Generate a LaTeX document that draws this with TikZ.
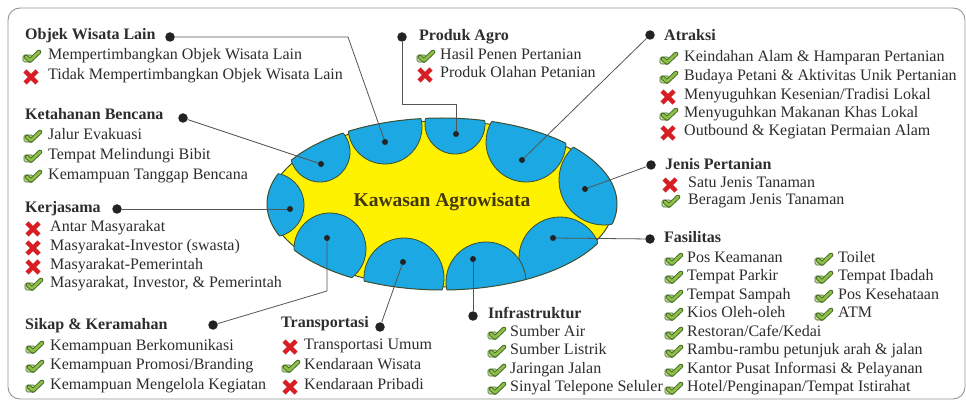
\documentclass[tikz,border=0pt]{standalone}
\usepackage{fontspec}
\setmainfont{Liberation Serif}

\definecolor{agblue}{RGB}{28,168,226}
\definecolor{agyellow}{RGB}{255,242,0}
\definecolor{rimc}{RGB}{60,78,48}
\definecolor{linec}{RGB}{85,85,85}
\definecolor{dotc}{RGB}{35,35,35}
\definecolor{txtc}{RGB}{45,45,45}
\definecolor{ckgreen}{RGB}{142,192,72}
\definecolor{ckdark}{RGB}{72,110,42}
\definecolor{xred}{RGB}{214,30,36}
\definecolor{framec}{RGB}{150,150,150}
\definecolor{corec}{RGB}{66,56,16}

% icon helpers: green tick and red cross
\newcommand\mkok[1]{\pic at (#1) {okmark};}
\newcommand\mkno[1]{\pic at (#1) {nomark};}
% lobe circles (centre x / centre y / radius)
\newcommand\lobelist{272/205/32, 320/152/30, 385/127/37, 455/124/30, 526/142/40,
                     604/180/45, 560/258/41, 486/282/40, 404/278/40, 330/249/36}

\begin{document}
\begin{tikzpicture}[x=1pt,y=-1pt,
  ttl/.style={font=\bfseries\fontsize{16}{19}\selectfont, text=txtc, anchor=mid west, inner sep=0pt},
  itm/.style={font=\fontsize{16}{19}\selectfont, text=txtc, anchor=mid west, inner sep=0pt},
  bdot/.style={circle, fill=dotc, inner sep=0pt, minimum size=9.5pt},
  ldot/.style={circle, fill=dotc, inner sep=0pt, minimum size=6pt},
  link/.style={draw=linec, line width=0.8pt},
  lobe/.style={fill=agblue, draw=rimc, line width=0.8pt},
  okmark/.pic={
    \draw[fill=ckgreen!55!white, draw=ckdark, line width=0.6pt, rounded corners=1.5pt] (-8,-2) rectangle (1,5);
    \draw[line width=4.6pt, draw=ckdark, line cap=round, line join=round] (-5,0) -- (-1,3.5) -- (8,-5);
    \draw[line width=2.6pt, draw=ckgreen, line cap=round, line join=round] (-5,0) -- (-1,3.5) -- (8,-5);
  },
  nomark/.pic={
    \draw[line width=4.4pt, draw=xred] (-6,-6) -- (6,6) (-6,6) -- (6,-6);
  }
]
\useasboundingbox (0,0) rectangle (966,403);
\fill[white] (0,0) rectangle (966,403);
\draw[framec, line width=0.9pt, rounded corners=12pt] (8,8) rectangle (965,399);

% central area: yellow ellipse with blue lobes bulging slightly past its rim
\fill[agyellow] (442,204) ellipse [x radius=172pt, y radius=83pt];
\draw[rimc, line width=1pt] (442,204) ellipse [x radius=172pt, y radius=83pt];
\begin{scope}
  \clip (442,204) ellipse [x radius=175pt, y radius=86pt];
  \foreach \cx/\cy/\r in \lobelist
    \filldraw[lobe] (\cx,\cy) circle [radius=\r pt];
\end{scope}
\foreach \cx/\cy/\r in \lobelist {
  \begin{scope}
    \clip (\cx,\cy) circle [radius=\r pt];
    \draw[rimc, line width=1pt] (442,204) ellipse [x radius=175pt, y radius=86pt];
  \end{scope}
}
\node[font=\bfseries\fontsize{19.5}{22}\selectfont, text=corec] (core) at (442,202) {Kawasan Agrowisata};

% dots inside the lobes
\node[ldot] (l-obj) at (385,142) {};
\node[ldot] (l-ket) at (321,164) {};
\node[ldot] (l-ker) at (290,209) {};
\node[ldot] (l-sik) at (327,238) {};
\node[ldot] (l-tra) at (403,262) {};
\node[ldot] (l-inf) at (473,259) {};
\node[ldot] (l-fas) at (553,238) {};
\node[ldot] (l-jen) at (585,189) {};
\node[ldot] (l-atr) at (522,160) {};
\node[ldot] (l-pro) at (456,134) {};

% dots beside the group titles
\node[bdot] (d-obj) at (170,37) {};
\node[bdot] (d-ket) at (183,118) {};
\node[bdot] (d-ker) at (117,209) {};
\node[bdot] (d-sik) at (213,325) {};
\node[bdot] (d-tra) at (380,327) {};
\node[bdot] (d-inf) at (473,316) {};
\node[bdot] (d-fas) at (650,239) {};
\node[bdot] (d-jen) at (651,165) {};
\node[bdot] (d-atr) at (650,35) {};
\node[bdot] (d-pro) at (402,37) {};

% connectors
\coordinate (b-obj) at (348,37);
\coordinate (b-sik) at (327,291);
\coordinate (b-pro1) at (402,104);
\coordinate (b-pro2) at (456,104);
\draw[link] (d-obj) -- (b-obj) -- (l-obj);
\draw[link] (d-ket) -- (l-ket);
\draw[link] (d-ker) -- (l-ker);
\draw[link] (d-sik) -- (b-sik) -- (l-sik);
\draw[link] (d-tra) -- (l-tra);
\draw[link] (d-inf) -- (l-inf);
\draw[link] (d-fas) -- (l-fas);
\draw[link] (d-jen) -- (l-jen);
\draw[link] (d-atr) -- (l-atr);
\draw[link] (d-pro) -- (b-pro1) -- (b-pro2) -- (l-pro);

% Objek Wisata Lain
\node[ttl] (t-obj) at (25,37) {Objek Wisata Lain};
\foreach \y/\m/\t in {57/ok/{Mempertimbangkan Objek Wisata Lain},
                      77/no/{Tidak Mempertimbangkan Objek Wisata Lain}}
  {\csname mk\m\endcsname{31,\y}\node[itm] (obj-\y) at (48,\y) {\t};}

% Ketahanan Bencana
\node[ttl] (t-ket) at (25,117) {Ketahanan Bencana};
\foreach \y/\m/\t in {137/ok/{Jalur Evakuasi},
                      157/ok/{Tempat Melindungi Bibit},
                      177/ok/{Kemampuan Tanggap Bencana}}
  {\csname mk\m\endcsname{32,\y}\node[itm] (ket-\y) at (48,\y) {\t};}

% Kerjasama
\node[ttl] (t-ker) at (25,210) {Kerjasama};
\foreach \y/\m/\t in {229/no/{Antar Masyarakat},
                      248/no/{Masyarakat-Investor (swasta)},
                      267/no/{Masyarakat-Pemerintah},
                      285/ok/{Masyarakat, Investor, \& Pemerintah}}
  {\csname mk\m\endcsname{33,\y}\node[itm] (ker-\y) at (50,\y) {\t};}

% Sikap & Keramahan
\node[ttl] (t-sik) at (25,327) {Sikap \& Keramahan};
\foreach \y/\m/\t in {348/ok/{Kemampuan Berkomunikasi},
                      367/ok/{Kemampuan Promosi/Branding},
                      387/ok/{Kemampuan Mengelola Kegiatan}}
  {\csname mk\m\endcsname{34,\y}\node[itm] (sik-\y) at (50,\y) {\t};}

% Transportasi
\node[ttl] (t-tra) at (281,325) {Transportasi};
\foreach \y/\m/\t in {347/no/{Transportasi Umum},
                      367/ok/{Kendaraan Wisata},
                      387/no/{Kendaraan Pribadi}}
  {\csname mk\m\endcsname{290,\y}\node[itm] (tra-\y) at (304,\y) {\t};}

% Infrastruktur
\node[ttl] (t-inf) at (488,316) {Infrastruktur};
\foreach \y/\m/\t in {334/ok/{Sumber Air},
                      352/ok/{Sumber Listrik},
                      371/ok/{Jaringan Jalan},
                      389/ok/{Sinyal Telepone Seluler}}
  {\csname mk\m\endcsname{496,\y}\node[itm] (inf-\y) at (510,\y) {\t};}

% Fasilitas
\node[ttl] (t-fas) at (664,240) {Fasilitas};
\foreach \y/\m/\t in {260/ok/{Pos Keamanan},
                      278/ok/{Tempat Parkir},
                      297/ok/{Tempat Sampah},
                      315/ok/{Kios Oleh-oleh},
                      334/ok/{Restoran/Cafe/Kedai},
                      352/ok/{Rambu-rambu petunjuk arah \& jalan},
                      371/ok/{Kantor Pusat Informasi \& Pelayanan},
                      389/ok/{Hotel/Penginapan/Tempat Istirahat}}
  {\csname mk\m\endcsname{673,\y}\node[itm] (fas-\y) at (687,\y) {\t};}
\foreach \y/\m/\t in {260/ok/{Toilet},
                      278/ok/{Tempat Ibadah},
                      297/ok/{Pos Kesehataan},
                      315/ok/{ATM}}
  {\csname mk\m\endcsname{823,\y}\node[itm] (fasb-\y) at (838,\y) {\t};}

% Jenis Pertanian
\node[ttl] (t-jen) at (665,167) {Jenis Pertanian};
\foreach \y/\m/\t in {185/no/{Satu Jenis Tanaman},
                      202/ok/{Beragam Jenis Tanaman}}
  {\csname mk\m\endcsname{670,\y}\node[itm] (jen-\y) at (688,\y) {\t};}

% Atraksi
\node[ttl] (t-atr) at (664,38) {Atraksi};
\foreach \y/\m/\t in {59/ok/{Keindahan Alam \& Hamparan Pertanian},
                      78/ok/{Budaya Petani \& Aktivitas Unik Pertanian},
                      97/no/{Menyuguhkan Kesenian/Tradisi Lokal},
                      115/ok/{Menyuguhkan Makanan Khas Lokal},
                      133/no/{Outbound \& Kegiatan Permaian Alam}}
  {\csname mk\m\endcsname{668,\y}\node[itm] (atr-\y) at (684,\y) {\t};}

% Produk Agro
\node[ttl] (t-pro) at (419,38) {Produk Agro};
\foreach \y/\m/\t in {57/ok/{Hasil Penen Pertanian},
                      75/no/{Produk Olahan Petanian}}
  {\csname mk\m\endcsname{425,\y}\node[itm] (pro-\y) at (440,\y) {\t};}
\end{tikzpicture}
\end{document}
